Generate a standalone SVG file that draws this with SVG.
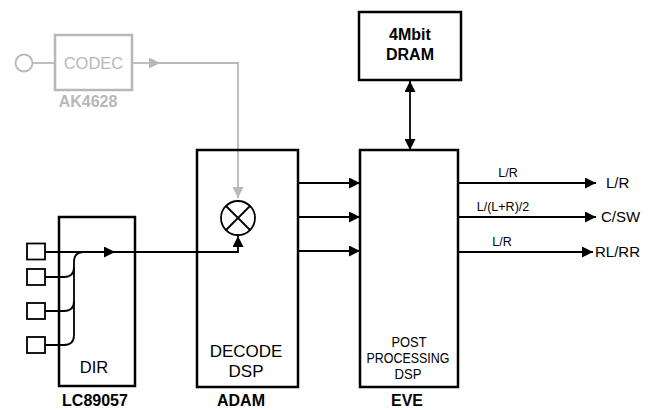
<svg xmlns="http://www.w3.org/2000/svg" width="656" height="410" viewBox="0 0 656 410">
<defs>
<marker id="arr" markerUnits="userSpaceOnUse" markerWidth="11" markerHeight="11" refX="10" refY="5" orient="auto-start-reverse" viewBox="0 0 10 10"><path d="M0,0 L10,5 L0,10 z" fill="#000"/></marker>
<marker id="garr" markerUnits="userSpaceOnUse" markerWidth="11" markerHeight="11" refX="10" refY="5" orient="auto" viewBox="0 0 10 10"><path d="M0,0 L10,5 L0,10 z" fill="#b8b8b8"/></marker>
<style>
.box{fill:#fff;stroke:#000;stroke-width:2.5}
.gbox{fill:#fff;stroke:#b8b8b8;stroke-width:2.5}
.ln{fill:none;stroke:#000;stroke-width:1.8}
.gln{fill:none;stroke:#b8b8b8;stroke-width:1.8}
.t{font-family:"Liberation Sans",Arial,sans-serif;fill:#000;text-anchor:middle}
.b{font-family:"Liberation Sans",Arial,sans-serif;font-weight:bold;fill:#000;text-anchor:middle;font-size:16px}
.s{font-family:"Liberation Sans",Arial,sans-serif;fill:#000;text-anchor:middle;font-size:12.5px}
.o{font-family:"Liberation Sans",Arial,sans-serif;fill:#000;font-size:15px}
</style>
</defs>
<rect width="656" height="410" fill="#fff"/>

<g id="connectors">
<line class="gln" x1="32.5" y1="63" x2="55" y2="63"/>
<path class="gln" d="M132,63 H160" marker-end="url(#garr)"/>
<path class="gln" d="M160,63 H238 V198" marker-end="url(#garr)"/>
<path class="ln" d="M45,252 H115" marker-end="url(#arr)"/>
<path class="ln" d="M115,252 H238 V236" marker-end="url(#arr)"/>
<path class="ln" d="M45,277 H64 Q74,277 74,267"/>
<path class="ln" d="M45,311 H64 Q74,311 74,301"/>
<path class="ln" d="M45,345 H64 Q74,345 74,335 V262 Q74,252 84,252"/>
<path class="ln" d="M298,183 H360" marker-end="url(#arr)"/>
<path class="ln" d="M298,217 H360" marker-end="url(#arr)"/>
<path class="ln" d="M298,251 H360" marker-end="url(#arr)"/>
<path class="ln" d="M410,81 V150" marker-start="url(#arr)" marker-end="url(#arr)"/>
<path class="ln" d="M458,183 H596" marker-end="url(#arr)"/>
<path class="ln" d="M458,217 H596" marker-end="url(#arr)"/>
<path class="ln" d="M458,252 H593" marker-end="url(#arr)"/>
<text class="s" x="508" y="177">L/R</text>
<text class="s" x="503" y="211">L/(L+R)/2</text>
<text class="s" x="502" y="246">L/R</text>
</g>

<g id="codec-input">
<circle cx="24" cy="63" r="8.5" fill="#fff" stroke="#b8b8b8" stroke-width="1.8"/>
</g>

<g id="codec">
<rect class="gbox" x="55" y="35" width="77" height="55"/>
<text class="t" x="93.5" y="69" font-size="16.5" style="fill:#b8b8b8">CODEC</text>
<text class="b" x="88" y="107" style="fill:#b8b8b8">AK4628</text>
</g>

<g id="inputs">
<rect x="27" y="243.5" width="18" height="16" fill="#fff" stroke="#000" stroke-width="1.8"/>
<rect x="27" y="269" width="18" height="16" fill="#fff" stroke="#000" stroke-width="1.8"/>
<rect x="27" y="303" width="18" height="16" fill="#fff" stroke="#000" stroke-width="1.8"/>
<rect x="27" y="337" width="18" height="16" fill="#fff" stroke="#000" stroke-width="1.8"/>
</g>

<g id="dir">
<rect x="59" y="217" width="76" height="169" fill="none" stroke="#000" stroke-width="2.5"/>
<text class="t" x="94" y="373" font-size="16.5">DIR</text>
<text class="b" x="95" y="406">LC89057</text>
</g>

<g id="adam">
<rect x="197" y="150" width="101" height="237" fill="none" stroke="#000" stroke-width="2.5"/>
<text class="t" x="246" y="357" font-size="17">DECODE</text>
<text class="t" x="246" y="377" font-size="17">DSP</text>
<text class="b" x="241" y="406">ADAM</text>
</g>

<g id="mixer">
<circle cx="238" cy="218" r="17" fill="#fff" stroke="#000" stroke-width="1.8"/>
<path class="ln" d="M226,206 L250,230 M250,206 L226,230"/>
</g>

<g id="dram">
<rect class="box" x="359" y="12" width="102" height="68"/>
<text class="b" x="410" y="40">4Mbit</text>
<text class="b" x="410" y="60">DRAM</text>
</g>

<g id="eve">
<rect x="360" y="150" width="98" height="237" fill="none" stroke="#000" stroke-width="2.5"/>
<text class="t" x="409" y="347" font-size="15.5" textLength="35" lengthAdjust="spacingAndGlyphs">POST</text>
<text class="t" x="408" y="363" font-size="15.5" textLength="83" lengthAdjust="spacingAndGlyphs">PROCESSING</text>
<text class="t" x="408" y="379" font-size="15.5" textLength="27" lengthAdjust="spacingAndGlyphs">DSP</text>
<text class="b" x="407" y="406">EVE</text>
</g>

<g id="outputs">
<text class="o" x="606" y="188">L/R</text>
<text class="o" x="601" y="222">C/SW</text>
<text class="o" x="595" y="257">RL/RR</text>
</g>
</svg>
